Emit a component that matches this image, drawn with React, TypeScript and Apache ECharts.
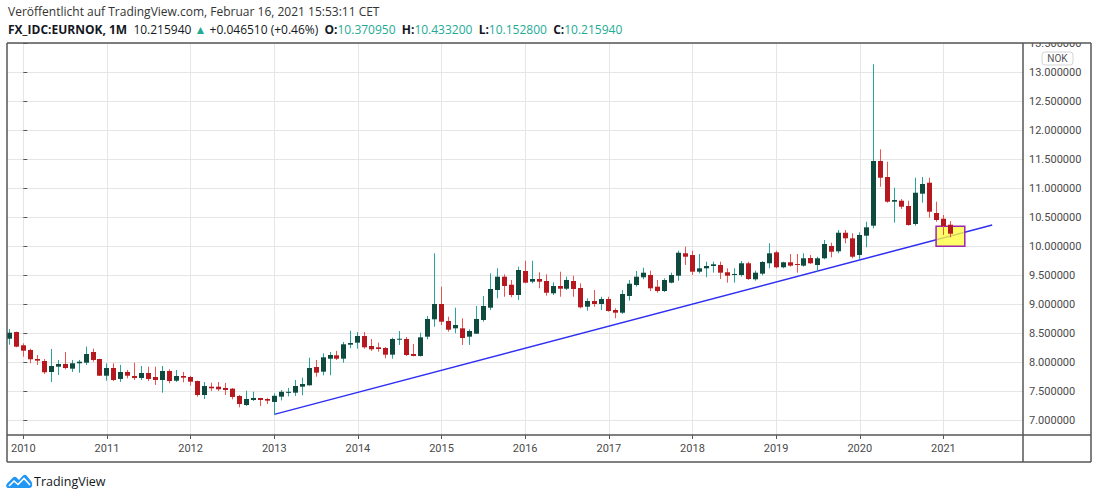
import React, { useEffect, useRef } from "react";
import * as echarts from "echarts";

// Monthly OHLC rows: [open, close, low, high]
const y2009 = [
  [8.408, 8.512, 8.305, 8.575],
  [8.524, 8.271, 8.26, 8.53],
];
const y2010 = [
  [8.295, 8.202, 8.099, 8.329],
  [8.214, 8.054, 7.985, 8.236],
  [8.059, 8.03, 7.956, 8.128],
  [8.024, 7.83, 7.801, 8.059],
  [7.835, 7.938, 7.663, 8.231],
  [7.926, 7.973, 7.783, 8.042],
  [7.973, 7.904, 7.881, 8.179],
  [7.892, 7.985, 7.835, 8.042],
  [7.985, 8.012, 7.823, 8.042],
  [7.995, 8.145, 7.956, 8.271],
  [8.179, 8.042, 8.012, 8.236],
  [8.059, 7.771, 7.765, 8.062],
];
const y2011 = [
  [7.771, 7.904, 7.685, 7.985],
  [7.904, 7.697, 7.68, 7.985],
  [7.715, 7.835, 7.663, 7.956],
  [7.835, 7.771, 7.726, 7.87],
  [7.766, 7.732, 7.697, 7.995],
  [7.732, 7.818, 7.697, 7.938],
  [7.818, 7.715, 7.68, 7.926],
  [7.749, 7.697, 7.611, 7.926],
  [7.697, 7.852, 7.479, 7.938],
  [7.852, 7.68, 7.64, 7.881],
  [7.685, 7.766, 7.663, 7.87],
  [7.766, 7.737, 7.658, 7.835],
];
const y2012 = [
  [7.749, 7.668, 7.599, 7.77],
  [7.68, 7.439, 7.41, 7.685],
  [7.439, 7.594, 7.37, 7.663],
  [7.582, 7.554, 7.508, 7.651],
  [7.582, 7.537, 7.508, 7.663],
  [7.56, 7.525, 7.439, 7.646],
  [7.548, 7.405, 7.365, 7.56],
  [7.422, 7.284, 7.227, 7.44],
  [7.267, 7.37, 7.25, 7.513],
  [7.353, 7.387, 7.336, 7.496],
  [7.387, 7.353, 7.25, 7.39],
  [7.37, 7.341, 7.284, 7.39],
];
const y2013 = [
  [7.319, 7.425, 7.1, 7.468],
  [7.41, 7.494, 7.345, 7.525],
  [7.476, 7.494, 7.415, 7.56],
  [7.479, 7.594, 7.422, 7.697],
  [7.582, 7.628, 7.434, 7.737],
  [7.606, 7.904, 7.6, 8.081],
  [7.921, 7.823, 7.754, 8.042],
  [7.84, 8.088, 7.778, 8.157],
  [8.064, 8.128, 7.778, 8.179],
  [8.122, 8.064, 8.042, 8.197],
  [8.064, 8.312, 7.995, 8.352],
  [8.305, 8.334, 8.243, 8.546],
];
const y2014 = [
  [8.34, 8.455, 8.236, 8.524],
  [8.455, 8.26, 8.236, 8.524],
  [8.283, 8.226, 8.197, 8.403],
  [8.26, 8.231, 8.185, 8.34],
  [8.248, 8.133, 8.071, 8.265],
  [8.133, 8.403, 8.064, 8.426],
  [8.391, 8.408, 8.3, 8.541],
  [8.403, 8.128, 8.111, 8.438],
  [8.145, 8.111, 8.105, 8.317],
  [8.111, 8.432, 8.099, 8.512],
  [8.443, 8.748, 8.398, 8.799],
  [8.742, 9.006, 8.615, 9.879],
];
const y2015 = [
  [9.006, 8.701, 8.644, 9.304],
  [8.713, 8.563, 8.529, 8.787],
  [8.587, 8.644, 8.501, 8.942],
  [8.587, 8.42, 8.3, 8.76],
  [8.443, 8.541, 8.3, 8.57],
  [8.494, 8.748, 8.49, 8.971],
  [8.73, 8.971, 8.701, 9.144],
  [8.942, 9.264, 8.902, 9.534],
  [9.247, 9.476, 9.104, 9.62],
  [9.476, 9.316, 9.131, 9.517],
  [9.338, 9.161, 9.121, 9.419],
  [9.161, 9.591, 9.075, 9.648],
];
const y2016 = [
  [9.574, 9.373, 9.362, 9.751],
  [9.39, 9.436, 9.362, 9.751],
  [9.436, 9.39, 9.276, 9.552],
  [9.402, 9.2, 9.149, 9.517],
  [9.19, 9.316, 9.161, 9.379],
  [9.316, 9.269, 9.131, 9.562],
  [9.269, 9.419, 9.247, 9.476],
  [9.402, 9.264, 9.131, 9.493],
  [9.281, 8.949, 8.932, 9.362],
  [8.959, 9.057, 8.89, 9.104],
  [9.057, 9.006, 8.959, 9.247],
  [9.006, 9.092, 8.902, 9.131],
];
const y2017 = [
  [9.092, 8.885, 8.873, 9.131],
  [8.902, 8.856, 8.76, 8.932],
  [8.856, 9.178, 8.834, 9.247],
  [9.144, 9.355, 9.063, 9.419],
  [9.333, 9.476, 9.304, 9.574],
  [9.466, 9.545, 9.431, 9.631],
  [9.505, 9.276, 9.23, 9.579],
  [9.304, 9.23, 9.2, 9.419],
  [9.23, 9.419, 9.212, 9.448],
  [9.373, 9.505, 9.362, 9.545],
  [9.493, 9.889, 9.407, 9.924],
  [9.879, 9.82, 9.677, 9.992],
];
const y2018 = [
  [9.849, 9.562, 9.505, 9.924],
  [9.562, 9.62, 9.534, 9.867],
  [9.62, 9.66, 9.466, 9.734],
  [9.66, 9.689, 9.545, 9.734],
  [9.677, 9.545, 9.436, 9.734],
  [9.552, 9.493, 9.373, 9.62],
  [9.505, 9.522, 9.373, 9.62],
  [9.505, 9.707, 9.476, 9.746],
  [9.707, 9.436, 9.419, 9.734],
  [9.431, 9.545, 9.407, 9.579],
  [9.528, 9.729, 9.5, 9.746],
  [9.707, 9.879, 9.62, 10.051],
];
const y2019 = [
  [9.896, 9.638, 9.62, 9.924],
  [9.638, 9.724, 9.62, 9.734],
  [9.724, 9.666, 9.648, 9.867],
  [9.695, 9.689, 9.545, 9.867],
  [9.666, 9.793, 9.648, 9.879],
  [9.798, 9.707, 9.695, 9.85],
  [9.677, 9.793, 9.562, 9.82],
  [9.793, 10.039, 9.776, 10.108],
  [10.004, 9.906, 9.81, 10.061],
  [9.913, 10.233, 9.879, 10.28],
  [10.233, 10.137, 10.051, 10.28],
  [10.137, 9.82, 9.793, 10.223],
];
const y2020 = [
  [9.85, 10.194, 9.781, 10.24],
  [10.182, 10.326, 9.982, 10.423],
  [10.354, 11.468, 10.309, 13.133],
  [11.468, 11.18, 11.025, 11.669],
  [11.193, 10.767, 10.75, 11.456],
  [10.767, 10.796, 10.406, 11.008],
  [10.784, 10.681, 10.642, 10.814],
  [10.693, 10.366, 10.354, 10.784],
  [10.383, 10.922, 10.354, 11.18],
  [10.905, 11.072, 10.75, 11.193],
  [11.094, 10.595, 10.492, 11.18],
  [10.573, 10.452, 10.423, 10.767],
];
const y2021 = [
  [10.474, 10.349, 10.194, 10.538],
  [10.37095, 10.21594, 10.1528, 10.4332],
];

// [year, first month (0 = January), rows]
const yearBlocks: [number, number, number[][]][] = [
  [2009, 10, y2009],
  [2010, 0, y2010],
  [2011, 0, y2011],
  [2012, 0, y2012],
  [2013, 0, y2013],
  [2014, 0, y2014],
  [2015, 0, y2015],
  [2016, 0, y2016],
  [2017, 0, y2017],
  [2018, 0, y2018],
  [2019, 0, y2019],
  [2020, 0, y2020],
  [2021, 0, y2021],
];

const yearLabels = [2010, 2011, 2012, 2013, 2014, 2015, 2016, 2017, 2018, 2019, 2020, 2021];
const priceTicks = [7, 7.5, 8, 8.5, 9, 9.5, 10, 10.5, 11, 11.5, 12, 12.5, 13, 13.5];

// trend line: [monthIndex from Jan 2010, price]
const trendLine = [
  [36, 7.105],
  [139, 10.366],
];
// highlight box: [x0, y0, x1, y1] in monthIndex / price
const highlightBox = [[130.95, 10.344, 135.07, 10.0]];

const headerLine1 = "Veröffentlicht auf TradingView.com, Februar 16, 2021 15:53:11 CET";
const headerTicker = "FX_IDC:EURNOK, 1M";
const headerLast = "10.215940";
const headerChange = "+0.046510 (+0.46%)";
const headerOHLC = ["10.370950", "10.433200", "10.152800", "10.215940"];

const X_MIN = -2.34;
const X_MAX = 143.42;
const Y_MIN = 6.75;
const Y_MAX = 13.5;

const UP_BODY = "#0e4a3e";
const UP_WICK = "#26a69a";
const DOWN_BODY = "#b5191f";
const DOWN_WICK = "#ef5350";

const LOGO_D =
  "M2,15 C0,15 -0.5,11.5 1.5,10 L7,4.5 C8,3.5 9.5,3.5 10.5,4.5 L13,7 L17,2.5 C18,1.5 19.5,1.5 20.5,2.5 L25,8 C27,10.5 26.5,15 23.5,15 Z";

export default function App() {
  const ref = useRef<HTMLDivElement>(null);
  useEffect(() => {
    if (!ref.current) return;
    try {
      echarts.graphic.registerShape("tvlogo", echarts.graphic.extendPath(LOGO_D, {}));
    } catch (e) {}
    const chart = echarts.init(ref.current, null, { renderer: "svg" });

    const candles: number[][] = [];
    yearBlocks.forEach(([yr, m0, rows]) => {
      rows.forEach((r, i) => {
        const m = (yr - 2010) * 12 + m0 + i;
        candles.push([m, r[0], r[1], r[2], r[3]]);
      });
    });
    const yearTicks = yearLabels.map((y) => (y - 2010) * 12);

    const font = "Roboto, 'Open Sans', sans-serif";
    const frame = "#565656";
    const gridColor = "#e6e6e6";
    const lineEl = (x1: number, y1: number, x2: number, y2: number) => ({
      type: "line",
      z: 200,
      shape: { x1, y1, x2, y2 },
      style: { stroke: frame, lineWidth: 1.5 },
      silent: true,
    });

    const option: any = {
      animation: false,
      backgroundColor: "#ffffff",
      grid: { left: 7, right: 77, top: 43, bottom: 64, containLabel: false },
      xAxis: {
        type: "value",
        min: X_MIN,
        max: X_MAX,
        axisLine: { show: false },
        axisTick: { show: true, length: 4, customValues: yearTicks, lineStyle: { color: frame, width: 1 } },
        axisLabel: {
          customValues: yearTicks,
          formatter: (v: number) => String(2010 + Math.round(v / 12)),
          color: "#4a4a4a",
          fontSize: 11,
          fontFamily: font,
          margin: 8,
        },
        splitLine: { show: true, lineStyle: { color: gridColor, width: 1 } },
      },
      yAxis: {
        type: "value",
        position: "right",
        min: Y_MIN,
        max: Y_MAX,
        axisLine: { show: false },
        axisTick: { show: true, length: 4, customValues: priceTicks, lineStyle: { color: frame, width: 1 } },
        axisLabel: {
          customValues: priceTicks,
          formatter: (v: number) => v.toFixed(6),
          color: "#4a4a4a",
          fontSize: 11,
          fontFamily: font,
          margin: 6,
        },
        splitLine: { show: true, lineStyle: { color: gridColor, width: 1 } },
      },
      series: [
        {
          type: "line",
          data: trendLine,
          symbol: "none",
          silent: true,
          z: 2,
          lineStyle: { color: "#2f2ff2", width: 1.5 },
        },
        {
          type: "custom",
          data: highlightBox,
          z: 3,
          silent: true,
          encode: { x: [0, 2], y: [1, 3] },
          renderItem: (params: any, api: any) => {
            const p0 = api.coord([api.value(0), api.value(1)]);
            const p1 = api.coord([api.value(2), api.value(3)]);
            return {
              type: "rect",
              shape: { x: p0[0], y: p0[1], width: p1[0] - p0[0], height: p1[1] - p0[1] },
              style: { fill: "rgba(255,255,60,0.78)", stroke: "#9c27b0", lineWidth: 1.5 },
            };
          },
        },
        {
          type: "custom",
          name: "EURNOK",
          data: candles,
          z: 5,
          silent: true,
          clip: true,
          encode: { x: 0, y: [1, 2, 3, 4] },
          renderItem: (params: any, api: any) => {
            const m = api.value(0);
            const o = api.value(1);
            const c = api.value(2);
            const l = api.value(3);
            const h = api.value(4);
            const pO = api.coord([m, o]);
            const pC = api.coord([m, c]);
            const pL = api.coord([m, l]);
            const pH = api.coord([m, h]);
            const cx = Math.round(pO[0] - 0.5);
            const up = c >= o;
            const top = Math.min(pO[1], pC[1]);
            const hgt = Math.max(1, Math.abs(pO[1] - pC[1]));
            return {
              type: "group",
              children: [
                {
                  type: "line",
                  shape: { x1: cx + 0.5, y1: pH[1], x2: cx + 0.5, y2: pL[1] },
                  style: { stroke: up ? UP_WICK : DOWN_WICK, lineWidth: 1 },
                },
                {
                  type: "rect",
                  shape: { x: cx - 2, y: top, width: 5, height: hgt },
                  style: { fill: up ? UP_BODY : DOWN_BODY },
                },
              ],
            };
          },
        },
      ],
      graphic: [
        {
          type: "text",
          x: 8,
          y: 11,
          silent: true,
          style: {
            text: headerLine1,
            font: "12px 'Open Sans', sans-serif",
            fill: "#333333",
            textVerticalAlign: "middle",
          },
        },
        {
          type: "text",
          x: 8,
          y: 29,
          silent: true,
          style: {
            text:
              `{b|${headerTicker}}{n|  ${headerLast} }{g|▲}{n| ${headerChange}  }` +
              `{b|O:}{g|${headerOHLC[0]}}{b|  H:}{g|${headerOHLC[1]}}{b|  L:}{g|${headerOHLC[2]}}{b|  C:}{g|${headerOHLC[3]}}`,
            textVerticalAlign: "middle",
            rich: {
              b: { fontWeight: "bold", fill: "#131722", fontSize: 12, fontFamily: "'Open Sans', sans-serif" },
              n: { fill: "#131722", fontSize: 12, fontFamily: "'Open Sans', sans-serif" },
              g: { fill: "#22ab94", fontSize: 12, fontFamily: "'Open Sans', sans-serif" },
            },
          },
        },
        // mask above chart top (clips the 13.5 label)
        {
          type: "rect",
          z: 150,
          silent: true,
          shape: { x: 1024, y: 20, width: 70, height: 23 },
          style: { fill: "#ffffff" },
        },
        // NOK badge
        {
          type: "rect",
          z: 160,
          silent: true,
          shape: { x: 1042, y: 52, width: 31, height: 13, r: 3 },
          style: { fill: "#ffffff", stroke: "#d4d4d4", lineWidth: 1 },
        },
        {
          type: "text",
          z: 161,
          silent: true,
          x: 1057.5,
          y: 58.5,
          style: {
            text: "NOK",
            font: "10px Roboto, sans-serif",
            fill: "#555555",
            textAlign: "center",
            textVerticalAlign: "middle",
          },
        },
        lineEl(7, 43, 1091, 43),
        lineEl(7, 435, 1091, 435),
        lineEl(7, 462, 1091, 462),
        lineEl(7, 43, 7, 462),
        lineEl(1023, 43, 1023, 462),
        lineEl(1091, 43, 1091, 462),
        // logo
        {
          type: "group",
          x: 6,
          y: 473,
          silent: true,
          children: [
            { type: "tvlogo", x: 0, y: 0, scaleX: 1, scaleY: 1, style: { fill: "#2196f3" } },
            {
              type: "polyline",
              shape: { points: [[3, 13], [8, 8], [12, 11.5], [18, 5.5], [24, 12]] },
              style: { stroke: "#ffffff", lineWidth: 1.6, fill: null },
            },
          ],
        },
        {
          type: "text",
          x: 34,
          y: 481,
          silent: true,
          style: {
            text: "TradingView",
            font: "12.5px 'Open Sans', sans-serif",
            fill: "#131722",
            textVerticalAlign: "middle",
          },
        },
      ],
    };
    chart.setOption(option);
    return () => chart.dispose();
  }, []);
  return (
    <div
      ref={ref}
      style={{ position: "absolute", left: 0, top: 0, width: 1100, height: 499, background: "#ffffff" }}
    />
  );
}
